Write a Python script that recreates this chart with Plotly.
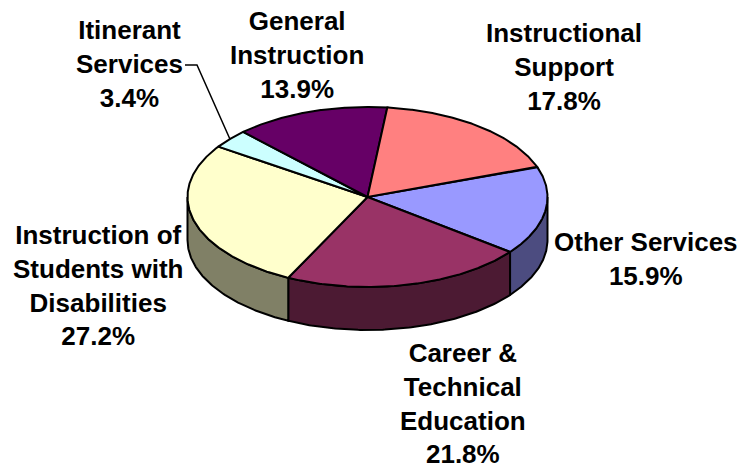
import numpy as np
import plotly.graph_objects as go

# ---- data (Excel series order, clockwise) ----
categories = ["Other Services", "Career & Technical Education",
              "Instruction of Students with Disabilities", "Itinerant Services",
              "General Instruction", "Instructional Support"]
values = [15.9, 21.8, 27.2, 3.4, 13.9, 17.8]
label_texts = ["Other Services<br>15.9%",
               "Career &<br>Technical<br>Education<br>21.8%",
               "Instruction of<br>Students with<br>Disabilities<br>27.2%",
               "Itinerant<br>Services<br>3.4%",
               "General<br>Instruction<br>13.9%",
               "Instructional<br>Support<br>17.8%"]

# ---- style ----
top_colors = ["#9999FF", "#993366", "#FFFFCC", "#CCFFFF", "#660066", "#FF8080"]
W, H = 743, 470
CX, CY, RX, RY, DEPTH = 367.5, 197.0, 180.0, 90.0, 43.0
START = 19.6  # degrees, parametric angle where first slice begins (clockwise)
label_pos = [(646, 259), (463, 403), (98, 285), (129, 64), (297, 55), (564, 67)]


def darker(hexc, f=0.5):
    hexc = hexc.lstrip("#")
    r, g, b = (int(hexc[i:i + 2], 16) for i in (0, 2, 4))
    return "rgb(%d,%d,%d)" % (round(r * f), round(g * f), round(b * f))


def ex(t):
    return CX + RX * np.cos(np.radians(t))


def ey(t, dz=0.0):
    return CY - RY * np.sin(np.radians(t)) + dz


total = sum(values)
bounds = []
a = START
for v in values:
    b = a - v / total * 360.0
    bounds.append((a, b))
    a = b

fig = go.Figure()

# side walls (front half only)
for (a, b), col in zip(bounds, top_colors):
    for k in range(-2, 3):
        lo, hi = -180 - 360 * k, -360 * k
        s_hi, s_lo = min(a, hi), max(b, lo)
        if s_hi - s_lo > 1e-6:
            t = np.linspace(s_hi, s_lo, 120)
            xs = np.concatenate([ex(t), ex(t[::-1])])
            ys = np.concatenate([ey(t), ey(t[::-1], DEPTH)])
            xs = np.append(xs, xs[0]); ys = np.append(ys, ys[0])
            fig.add_trace(go.Scatter(x=xs, y=ys, mode="lines", fill="toself",
                                     fillcolor=darker(col),
                                     line=dict(color="black", width=2),
                                     hoverinfo="skip", showlegend=False))

# top faces
for (a, b), col, name in zip(bounds, top_colors, categories):
    t = np.linspace(a, b, 200)
    xs = np.concatenate([[CX], ex(t), [CX]])
    ys = np.concatenate([[CY], ey(t), [CY]])
    fig.add_trace(go.Scatter(x=xs, y=ys, mode="lines", fill="toself",
                             fillcolor=col, name=name,
                             line=dict(color="black", width=2),
                             hoverinfo="name", showlegend=False))

# labels
for txt, (lx, ly) in zip(label_texts, label_pos):
    fig.add_annotation(x=lx, y=ly, xref="x", yref="y", text="<b>%s</b>" % txt,
                       showarrow=False, xanchor="center", yanchor="middle",
                       font=dict(family="Arial, Liberation Sans", size=26, color="black"))

# leader line for Itinerant Services
ia, ib = bounds[3]
mid = (ia + ib) / 2
fig.add_shape(type="path",
              path="M 185 65 L 197 65 L %.1f %.1f" % (ex(mid), ey(mid)),
              line=dict(color="black", width=1.5), xref="x", yref="y")

fig.update_xaxes(range=[0, W], visible=False, fixedrange=True)
fig.update_yaxes(range=[H, 0], visible=False, fixedrange=True)
fig.update_layout(width=W, height=H, margin=dict(l=0, r=0, t=0, b=0),
                  paper_bgcolor="white", plot_bgcolor="white", showlegend=False)

fig.write_html("out.html", config={"displayModeBar": False},
               post_script="document.body.style.margin='0';document.body.style.overflow='hidden';")
